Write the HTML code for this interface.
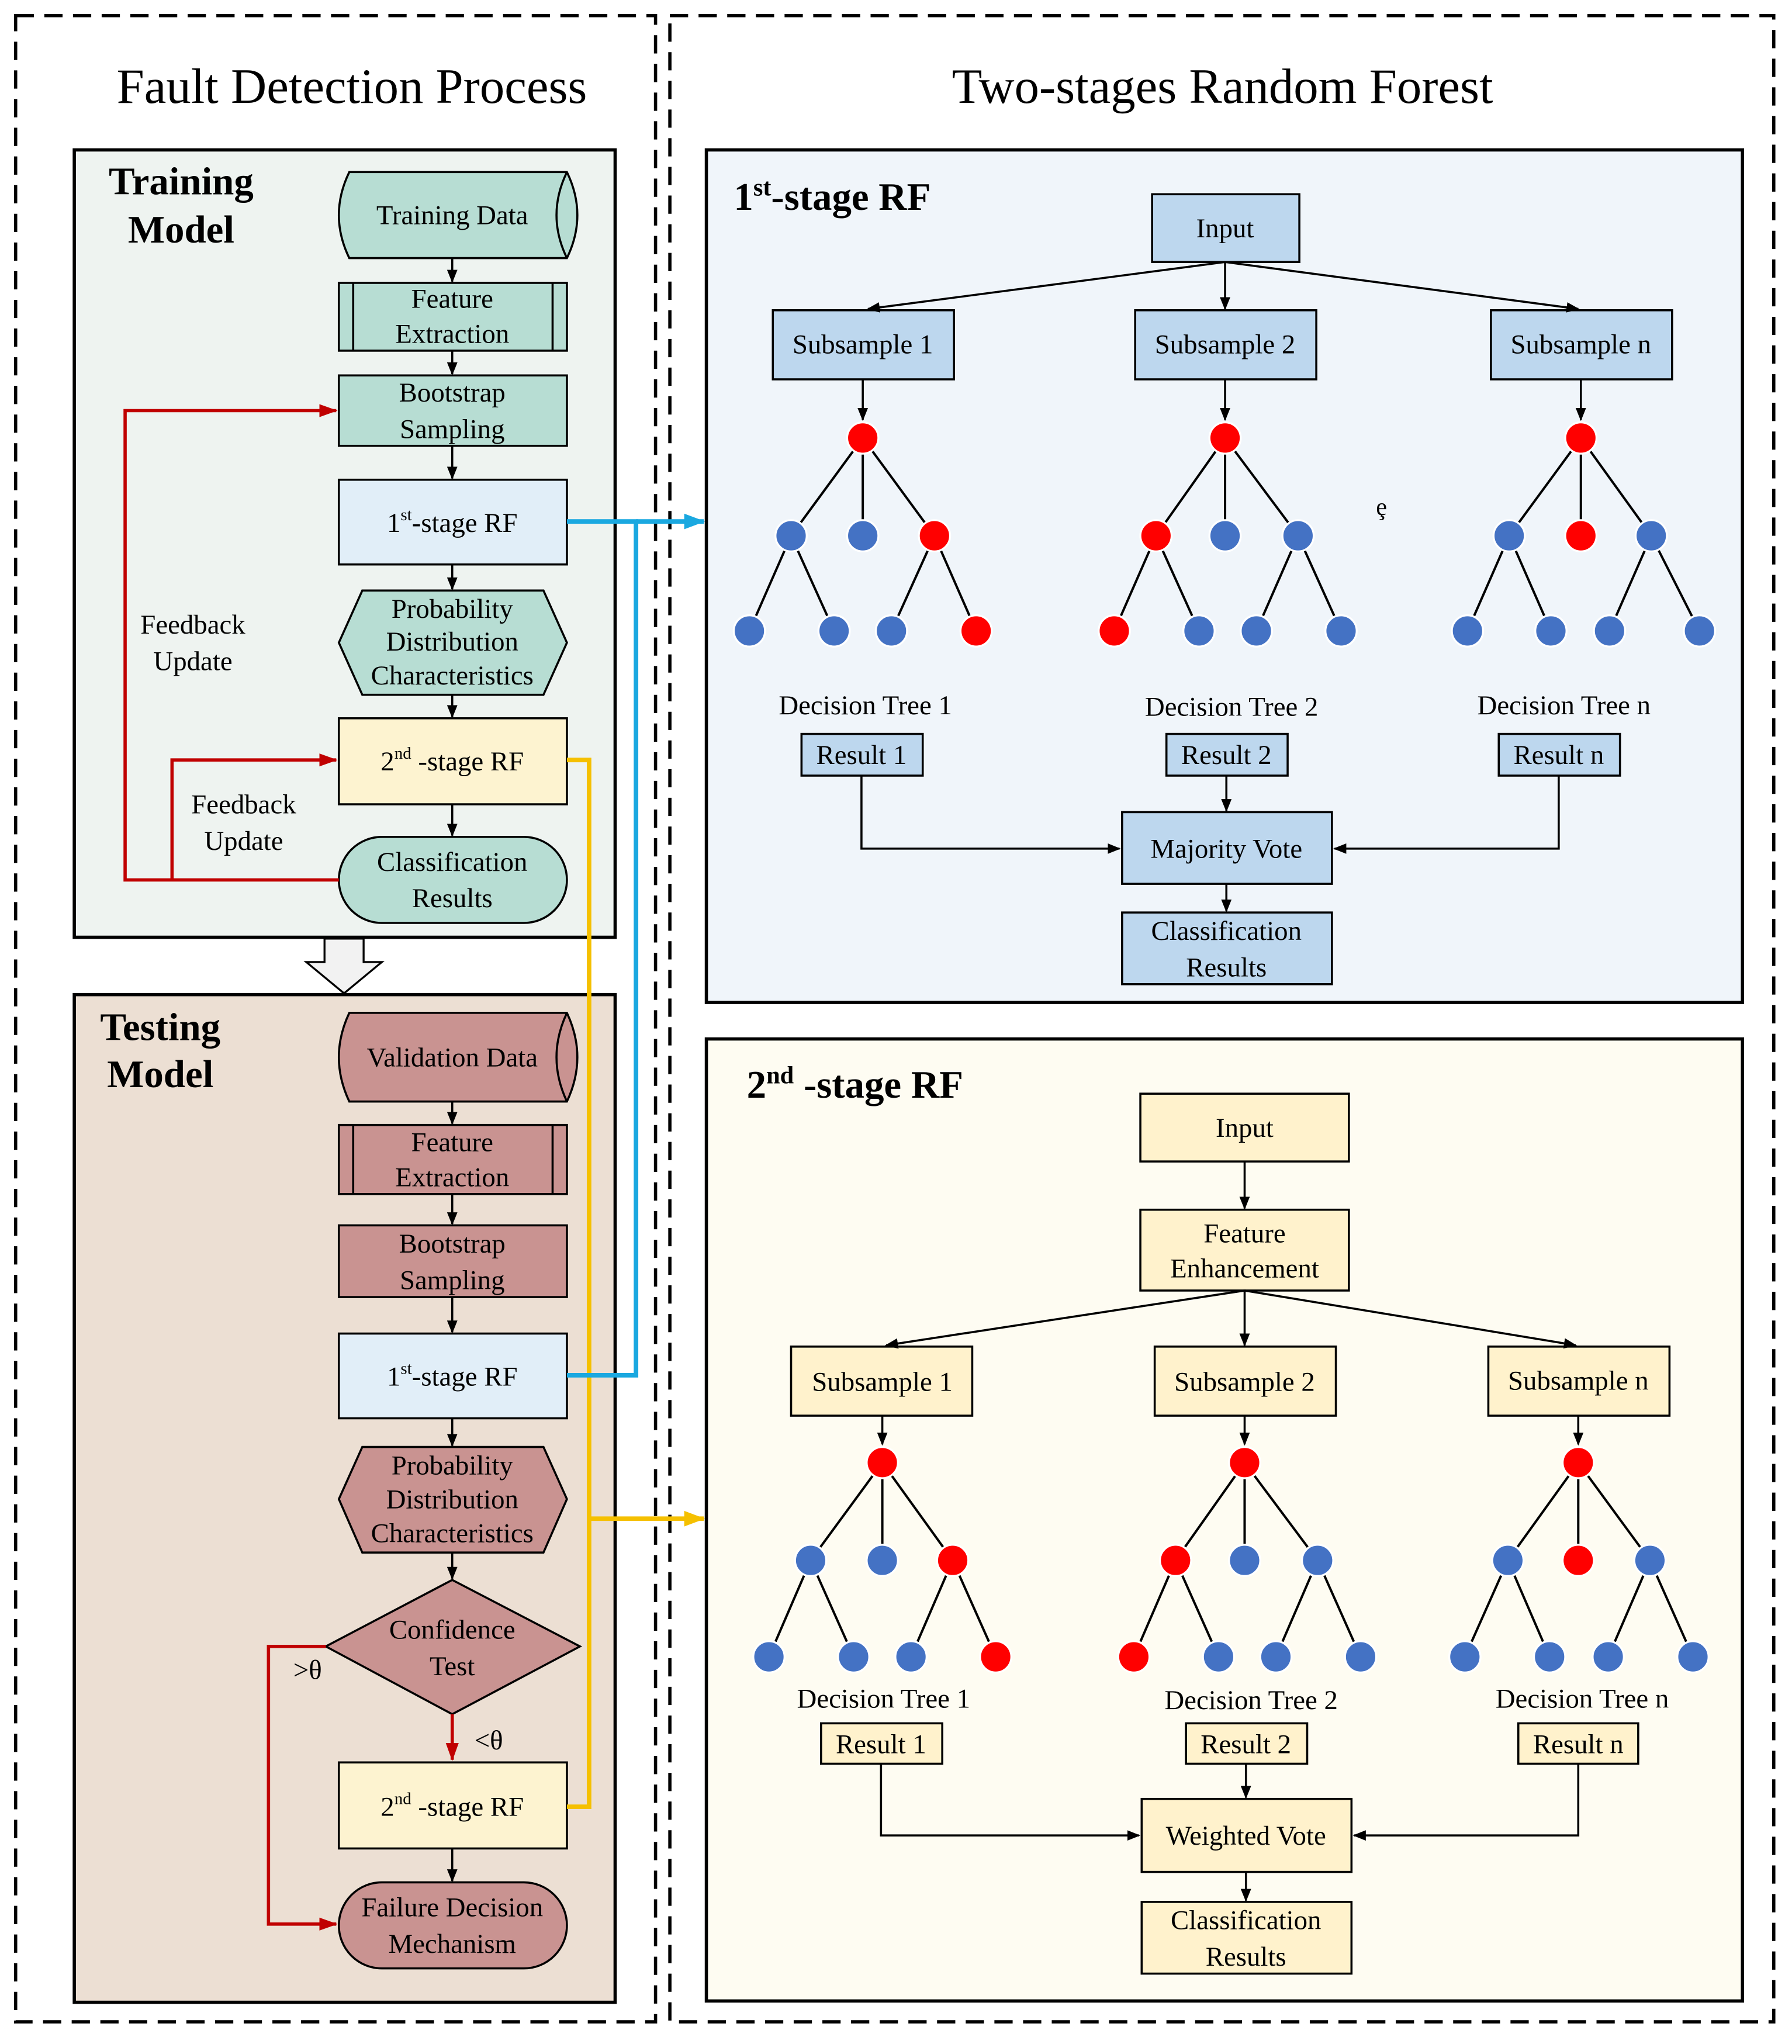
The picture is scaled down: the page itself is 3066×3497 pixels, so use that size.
<!DOCTYPE html>
<html><head><meta charset="utf-8"><style>
html,body{margin:0;padding:0;background:#fff}
svg{display:block}
text{font-family:"Liberation Serif",serif;fill:#000}
</style></head><body>
<svg width="3066" height="3497" viewBox="0 0 1375 1568" preserveAspectRatio="none" xmlns="http://www.w3.org/2000/svg">
<defs>
<marker id="ak" markerWidth="10" markerHeight="10" refX="9" refY="5" orient="auto" markerUnits="userSpaceOnUse"><path d="M0,1 L10,5 L0,9 Z" fill="#000"/></marker>
<marker id="ar" markerWidth="14" markerHeight="12" refX="13" refY="6" orient="auto" markerUnits="userSpaceOnUse"><path d="M0,1 L14,6 L0,11 Z" fill="#c00000"/></marker>
<marker id="ab" markerWidth="16" markerHeight="14" refX="15" refY="7" orient="auto" markerUnits="userSpaceOnUse"><path d="M0,1 L16,7 L0,13 Z" fill="#1aa8e0"/></marker>
<marker id="ay" markerWidth="16" markerHeight="14" refX="15" refY="7" orient="auto" markerUnits="userSpaceOnUse"><path d="M0,1 L16,7 L0,13 Z" fill="#f5c000"/></marker>
</defs>
<rect width="1375" height="1568" fill="#fff"/>
<rect x="12" y="12" width="491" height="1539" fill="none" stroke="#000" stroke-width="2.5" stroke-dasharray="14,8"/>
<rect x="514" y="12" width="847" height="1539" fill="none" stroke="#000" stroke-width="2.5" stroke-dasharray="14,8"/>
<text x="270" y="79" font-size="38" text-anchor="middle">Fault Detection Process</text>
<text x="938" y="79" font-size="38" text-anchor="middle">Two-stages Random Forest</text>

<rect x="57" y="115" width="415" height="604" fill="#eef3f0" stroke="#000" stroke-width="2.5"/>
<text x="139" y="149" font-size="30" font-weight="bold" text-anchor="middle">Training</text>
<text x="139" y="186" font-size="30" font-weight="bold" text-anchor="middle">Model</text>
<rect x="57" y="763" width="415" height="773" fill="#ecdfd3" stroke="#000" stroke-width="2.5"/>
<text x="123" y="798" font-size="30" font-weight="bold" text-anchor="middle">Testing</text>
<text x="123" y="834" font-size="30" font-weight="bold" text-anchor="middle">Model</text>
<path d="M249,720 L279,720 L279,738 L293,738 L264,762 L235,738 L249,738 Z" fill="#f2f2f2" stroke="#000" stroke-width="1.5"/>

<g stroke="#000" stroke-width="1.6">
<path d="M268,132 L435,132 Q451,165 435,198 L268,198 Q252,165 268,132 Z" fill="#b7ddd3"/>
<path d="M435,132 Q419,165 435,198" fill="none"/>
<rect x="260" y="217" width="175" height="52" fill="#b7ddd3"/>
<line x1="271" y1="217" x2="271" y2="269"/><line x1="424" y1="217" x2="424" y2="269"/>
<rect x="260" y="288" width="175" height="54" fill="#b7ddd3"/>
<rect x="260" y="368" width="175" height="65" fill="#e1eef8"/>
<path d="M278,453 L417,453 L435,493 L417,533 L278,533 L260,493 Z" fill="#b7ddd3"/>
<rect x="260" y="551" width="175" height="66" fill="#fdf3d0"/>
<rect x="260" y="642" width="175" height="66" rx="33" fill="#b7ddd3"/>
<line x1="347" y1="198" x2="347" y2="216" marker-end="url(#ak)"/>
<line x1="347" y1="269" x2="347" y2="287" marker-end="url(#ak)"/>
<line x1="347" y1="342" x2="347" y2="367" marker-end="url(#ak)"/>
<line x1="347" y1="433" x2="347" y2="452" marker-end="url(#ak)"/>
<line x1="347" y1="533" x2="347" y2="550" marker-end="url(#ak)"/>
<line x1="347" y1="617" x2="347" y2="641" marker-end="url(#ak)"/>
<path d="M268,777 L435,777 Q451,811 435,845 L268,845 Q252,811 268,777 Z" fill="#c99391"/>
<path d="M435,777 Q419,811 435,845" fill="none"/>
<rect x="260" y="863" width="175" height="53" fill="#c99391"/>
<line x1="271" y1="863" x2="271" y2="916"/><line x1="424" y1="863" x2="424" y2="916"/>
<rect x="260" y="940" width="175" height="55" fill="#c99391"/>
<rect x="260" y="1023" width="175" height="65" fill="#e1eef8"/>
<path d="M278,1110 L417,1110 L435,1150 L417,1191 L278,1191 L260,1150 Z" fill="#c99391"/>
<path d="M347,1212 L445,1263 L347,1315 L250,1263 Z" fill="#c99391"/>
<rect x="260" y="1352" width="175" height="66" fill="#fdf3d0"/>
<rect x="260" y="1444" width="175" height="66" rx="33" fill="#c99391"/>
<line x1="347" y1="845" x2="347" y2="862" marker-end="url(#ak)"/>
<line x1="347" y1="916" x2="347" y2="939" marker-end="url(#ak)"/>
<line x1="347" y1="995" x2="347" y2="1022" marker-end="url(#ak)"/>
<line x1="347" y1="1088" x2="347" y2="1109" marker-end="url(#ak)"/>
<line x1="347" y1="1191" x2="347" y2="1211" marker-end="url(#ak)"/>
<line x1="347" y1="1418" x2="347" y2="1443" marker-end="url(#ak)"/>
</g>
<g font-size="21" text-anchor="middle">
<text x="347" y="172">Training Data</text>
<text x="347" y="236">Feature</text><text x="347" y="263">Extraction</text>
<text x="347" y="308">Bootstrap</text><text x="347" y="336">Sampling</text>
<text x="347" y="408">1<tspan font-size="13" dy="-9">st</tspan><tspan dy="9">-stage RF</tspan></text>
<text x="347" y="474">Probability</text><text x="347" y="499">Distribution</text><text x="347" y="525">Characteristics</text>
<text x="347" y="591">2<tspan font-size="13" dy="-9">nd</tspan><tspan dy="9"> -stage RF</tspan></text>
<text x="347" y="668">Classification</text><text x="347" y="696">Results</text>
<text x="148" y="486">Feedback</text><text x="148" y="514">Update</text>
<text x="187" y="624">Feedback</text><text x="187" y="652">Update</text>
<text x="347" y="818">Validation Data</text>
<text x="347" y="883">Feature</text><text x="347" y="910">Extraction</text>
<text x="347" y="961">Bootstrap</text><text x="347" y="989">Sampling</text>
<text x="347" y="1063">1<tspan font-size="13" dy="-9">st</tspan><tspan dy="9">-stage RF</tspan></text>
<text x="347" y="1131">Probability</text><text x="347" y="1157">Distribution</text><text x="347" y="1183">Characteristics</text>
<text x="347" y="1257">Confidence</text><text x="347" y="1285">Test</text>
<text x="347" y="1393">2<tspan font-size="13" dy="-9">nd</tspan><tspan dy="9"> -stage RF</tspan></text>
<text x="347" y="1470">Failure Decision</text><text x="347" y="1498">Mechanism</text>
<text x="236" y="1288">&gt;θ</text>
<text x="375" y="1342">&lt;θ</text>
</g>
<g stroke="#c00000" stroke-width="2.5" fill="none">
<polyline points="260,675 96,675 96,315 258,315" marker-end="url(#ar)"/>
<polyline points="132,675 132,583 258,583" marker-end="url(#ar)"/>
<polyline points="250,1263 206,1263 206,1476 258,1476" marker-end="url(#ar)"/>
<line x1="347" y1="1315" x2="347" y2="1350" marker-end="url(#ar)"/>
</g>
<g fill="none" stroke-width="3.5">
<polyline points="435,583 452,583 452,1386 435,1386" stroke="#f5c000"/>
<line x1="452" y1="1165" x2="540" y2="1165" stroke="#f5c000" marker-end="url(#ay)"/>
<polyline points="435,400 488,400 488,1055 435,1055" stroke="#1aa8e0"/>
<line x1="488" y1="400" x2="540" y2="400" stroke="#1aa8e0" marker-end="url(#ab)"/>
</g>

<rect x="542" y="115" width="795" height="654" fill="#f0f5fa" stroke="#000" stroke-width="2.5"/>
<text x="563" y="161" font-size="30" font-weight="bold">1<tspan font-size="19" dy="-11">st</tspan><tspan dy="11">-stage RF</tspan></text>
<g stroke="#000" stroke-width="1.6" fill="#bdd7ee">
<rect x="884" y="149" width="113" height="52"/>
<rect x="593" y="238" width="139" height="53"/>
<rect x="871" y="238" width="139" height="53"/>
<rect x="1144" y="238" width="139" height="53"/>
<rect x="615" y="563" width="93" height="32"/>
<rect x="895" y="563" width="93" height="32"/>
<rect x="1150" y="563" width="93" height="32"/>
<rect x="861" y="623" width="161" height="55"/>
<rect x="861" y="700" width="161" height="55"/>
<g fill="none">
<line x1="940" y1="201" x2="666" y2="237" marker-end="url(#ak)"/>
<line x1="940" y1="201" x2="940" y2="237" marker-end="url(#ak)"/>
<line x1="940" y1="201" x2="1211" y2="237" marker-end="url(#ak)"/>
<line x1="662" y1="291" x2="662" y2="322" marker-end="url(#ak)"/>
<line x1="940" y1="291" x2="940" y2="322" marker-end="url(#ak)"/>
<line x1="1213" y1="291" x2="1213" y2="322" marker-end="url(#ak)"/>
<polyline points="661,595 661,651 859,651" marker-end="url(#ak)"/>
<polyline points="1196,595 1196,651 1024,651" marker-end="url(#ak)"/>
<line x1="941" y1="595" x2="941" y2="622" marker-end="url(#ak)"/>
<line x1="941" y1="678" x2="941" y2="699" marker-end="url(#ak)"/>
</g>
</g>
<g font-size="21" text-anchor="middle">
<text x="940" y="182">Input</text>
<text x="662" y="271">Subsample 1</text>
<text x="940" y="271">Subsample 2</text>
<text x="1213" y="271">Subsample n</text>
<text x="664" y="548">Decision Tree 1</text>
<text x="945" y="549">Decision Tree 2</text>
<text x="1200" y="548">Decision Tree n</text>
<text x="661" y="586">Result 1</text>
<text x="941" y="586">Result 2</text>
<text x="1196" y="586">Result n</text>
<text x="941" y="658">Majority Vote</text>
<text x="941" y="721">Classification</text><text x="941" y="749">Results</text>
<text x="1060" y="395" font-size="19">ȩ</text>
<text x="1074" y="1181" font-size="19">ȩ</text>
</g>

<rect x="542" y="797" width="795" height="738" fill="#fefcf2" stroke="#000" stroke-width="2.5"/>
<text x="573" y="842" font-size="30" font-weight="bold">2<tspan font-size="19" dy="-11">nd</tspan><tspan dy="11"> -stage RF</tspan></text>
<g stroke="#000" stroke-width="1.6" fill="#fff2cc">
<rect x="875" y="839" width="160" height="52"/>
<rect x="875" y="928" width="160" height="62"/>
<rect x="607" y="1033" width="139" height="53"/>
<rect x="886" y="1033" width="139" height="53"/>
<rect x="1142" y="1033" width="139" height="53"/>
<rect x="630" y="1322" width="93" height="31"/>
<rect x="910" y="1322" width="93" height="31"/>
<rect x="1165" y="1322" width="92" height="31"/>
<rect x="876" y="1380" width="161" height="56"/>
<rect x="876" y="1459" width="161" height="55"/>
<g fill="none">
<line x1="955" y1="891" x2="955" y2="927" marker-end="url(#ak)"/>
<line x1="955" y1="990" x2="680" y2="1032" marker-end="url(#ak)"/>
<line x1="955" y1="990" x2="955" y2="1032" marker-end="url(#ak)"/>
<line x1="955" y1="990" x2="1209" y2="1032" marker-end="url(#ak)"/>
<line x1="677" y1="1086" x2="677" y2="1108" marker-end="url(#ak)"/>
<line x1="955" y1="1086" x2="955" y2="1108" marker-end="url(#ak)"/>
<line x1="1211" y1="1086" x2="1211" y2="1108" marker-end="url(#ak)"/>
<polyline points="676,1353 676,1408 874,1408" marker-end="url(#ak)"/>
<polyline points="1211,1353 1211,1408 1039,1408" marker-end="url(#ak)"/>
<line x1="956" y1="1353" x2="956" y2="1379" marker-end="url(#ak)"/>
<line x1="956" y1="1436" x2="956" y2="1458" marker-end="url(#ak)"/>
</g>
</g>
<g font-size="21" text-anchor="middle">
<text x="955" y="872">Input</text>
<text x="955" y="953">Feature</text><text x="955" y="980">Enhancement</text>
<text x="677" y="1067">Subsample 1</text>
<text x="955" y="1067">Subsample 2</text>
<text x="1211" y="1066">Subsample n</text>
<text x="678" y="1310">Decision Tree 1</text>
<text x="960" y="1311">Decision Tree 2</text>
<text x="1214" y="1310">Decision Tree n</text>
<text x="676" y="1345">Result 1</text>
<text x="956" y="1345">Result 2</text>
<text x="1211" y="1345">Result n</text>
<text x="956" y="1415">Weighted Vote</text>
<text x="956" y="1480">Classification</text><text x="956" y="1508">Results</text>
</g>

<g stroke="#000" stroke-width="1.8">
<line x1="662" y1="336" x2="607" y2="411"/><line x1="662" y1="336" x2="662" y2="411"/><line x1="662" y1="336" x2="717" y2="411"/>
<line x1="607" y1="411" x2="575" y2="484"/><line x1="607" y1="411" x2="640" y2="484"/><line x1="717" y1="411" x2="684" y2="484"/><line x1="717" y1="411" x2="749" y2="484"/>
<line x1="940" y1="336" x2="887" y2="411"/><line x1="940" y1="336" x2="940" y2="411"/><line x1="940" y1="336" x2="996" y2="411"/>
<line x1="887" y1="411" x2="855" y2="484"/><line x1="887" y1="411" x2="920" y2="484"/><line x1="996" y1="411" x2="964" y2="484"/><line x1="996" y1="411" x2="1029" y2="484"/>
<line x1="1213" y1="336" x2="1158" y2="411"/><line x1="1213" y1="336" x2="1213" y2="411"/><line x1="1213" y1="336" x2="1267" y2="411"/>
<line x1="1158" y1="411" x2="1126" y2="484"/><line x1="1158" y1="411" x2="1190" y2="484"/><line x1="1267" y1="411" x2="1235" y2="484"/><line x1="1267" y1="411" x2="1304" y2="484"/>
<line x1="677" y1="1122" x2="622" y2="1197"/><line x1="677" y1="1122" x2="677" y2="1197"/><line x1="677" y1="1122" x2="731" y2="1197"/>
<line x1="622" y1="1197" x2="590" y2="1271"/><line x1="622" y1="1197" x2="655" y2="1271"/><line x1="731" y1="1197" x2="699" y2="1271"/><line x1="731" y1="1197" x2="764" y2="1271"/>
<line x1="955" y1="1122" x2="902" y2="1197"/><line x1="955" y1="1122" x2="955" y2="1197"/><line x1="955" y1="1122" x2="1011" y2="1197"/>
<line x1="902" y1="1197" x2="870" y2="1271"/><line x1="902" y1="1197" x2="935" y2="1271"/><line x1="1011" y1="1197" x2="979" y2="1271"/><line x1="1011" y1="1197" x2="1044" y2="1271"/>
<line x1="1211" y1="1122" x2="1157" y2="1197"/><line x1="1211" y1="1122" x2="1211" y2="1197"/><line x1="1211" y1="1122" x2="1266" y2="1197"/>
<line x1="1157" y1="1197" x2="1124" y2="1271"/><line x1="1157" y1="1197" x2="1189" y2="1271"/><line x1="1266" y1="1197" x2="1234" y2="1271"/><line x1="1266" y1="1197" x2="1299" y2="1271"/>
</g>
<g stroke="#fff" stroke-width="1.5">
<g fill="#ff0000">
<circle cx="662" cy="336" r="12"/><circle cx="717" cy="411" r="12"/><circle cx="749" cy="484" r="12"/>
<circle cx="940" cy="336" r="12"/><circle cx="887" cy="411" r="12"/><circle cx="855" cy="484" r="12"/>
<circle cx="1213" cy="336" r="12"/><circle cx="1213" cy="411" r="12"/>
<circle cx="677" cy="1122" r="12"/><circle cx="731" cy="1197" r="12"/><circle cx="764" cy="1271" r="12"/>
<circle cx="955" cy="1122" r="12"/><circle cx="902" cy="1197" r="12"/><circle cx="870" cy="1271" r="12"/>
<circle cx="1211" cy="1122" r="12"/><circle cx="1211" cy="1197" r="12"/>
</g>
<g fill="#4472c4">
<circle cx="607" cy="411" r="12"/><circle cx="662" cy="411" r="12"/><circle cx="575" cy="484" r="12"/><circle cx="640" cy="484" r="12"/><circle cx="684" cy="484" r="12"/>
<circle cx="940" cy="411" r="12"/><circle cx="996" cy="411" r="12"/><circle cx="920" cy="484" r="12"/><circle cx="964" cy="484" r="12"/><circle cx="1029" cy="484" r="12"/>
<circle cx="1158" cy="411" r="12"/><circle cx="1267" cy="411" r="12"/><circle cx="1126" cy="484" r="12"/><circle cx="1190" cy="484" r="12"/><circle cx="1235" cy="484" r="12"/><circle cx="1304" cy="484" r="12"/>
<circle cx="622" cy="1197" r="12"/><circle cx="677" cy="1197" r="12"/><circle cx="590" cy="1271" r="12"/><circle cx="655" cy="1271" r="12"/><circle cx="699" cy="1271" r="12"/>
<circle cx="955" cy="1197" r="12"/><circle cx="1011" cy="1197" r="12"/><circle cx="935" cy="1271" r="12"/><circle cx="979" cy="1271" r="12"/><circle cx="1044" cy="1271" r="12"/>
<circle cx="1157" cy="1197" r="12"/><circle cx="1266" cy="1197" r="12"/><circle cx="1124" cy="1271" r="12"/><circle cx="1189" cy="1271" r="12"/><circle cx="1234" cy="1271" r="12"/><circle cx="1299" cy="1271" r="12"/>
</g>
</g>
</svg>
</body></html>
